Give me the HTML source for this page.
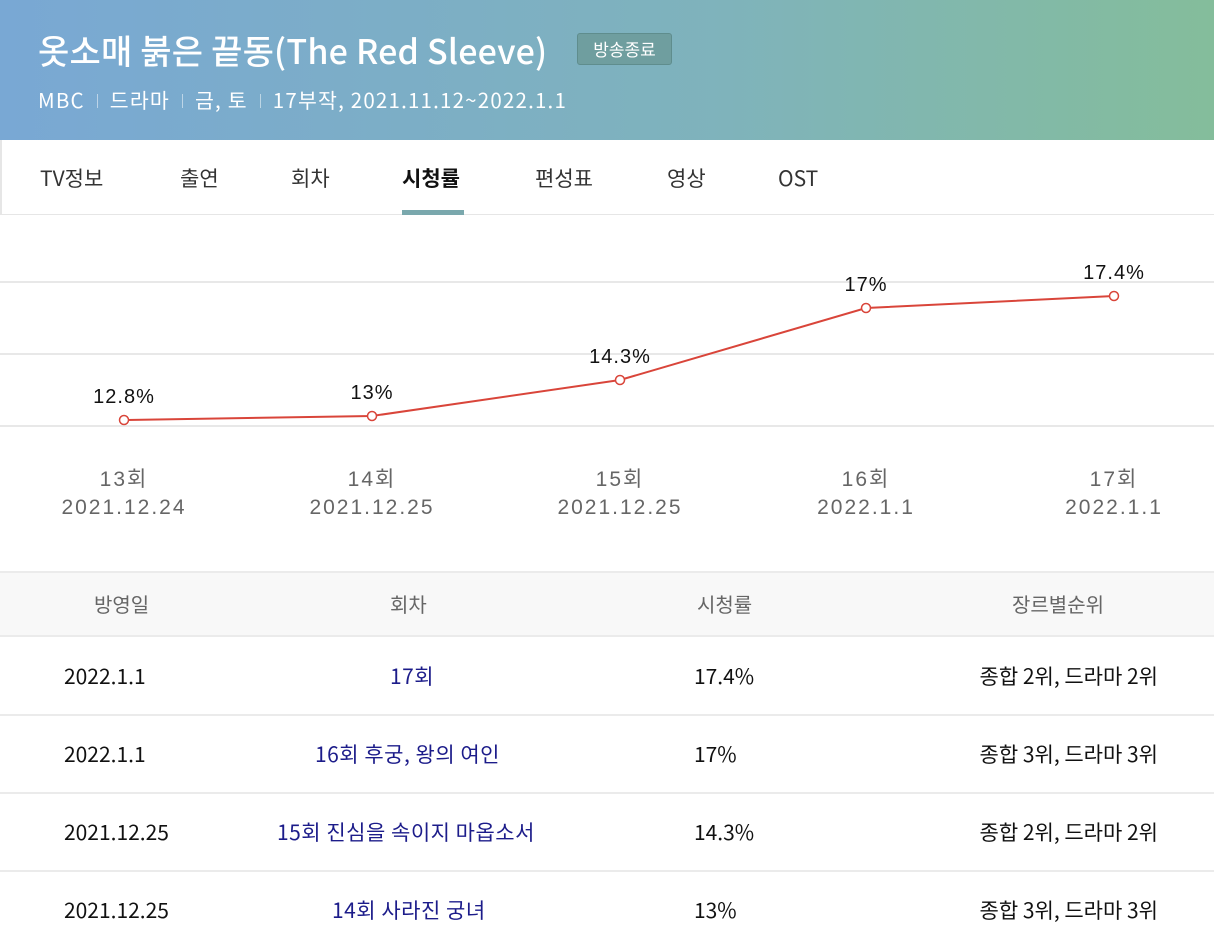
<!DOCTYPE html>
<html><head><meta charset="utf-8"><style>
*{margin:0;padding:0;box-sizing:border-box}
body{width:1214px;height:936px;overflow:hidden;background:#fff;font-family:"Noto Sans CJK KR","Liberation Sans",sans-serif;position:relative}
.hd{position:absolute;left:0;top:0;width:1214px;height:140px;background:linear-gradient(90deg,#79a8d4,#7fb3bb 60%,#84bd9b)}
.t{position:absolute;left:38px;top:28px;color:#fff;font-size:34px;letter-spacing:0.2px;line-height:44px;white-space:nowrap;font-weight:500}
.badge{position:absolute;left:577px;top:33px;width:95px;height:32px;background:#6f9e9f;border:1px solid #5f8d8d;border-radius:3px;color:#fff;font-size:17px;text-align:center;line-height:30px}
.sub{position:absolute;left:38px;top:85px;color:#fff;font-size:20.5px;line-height:28px;letter-spacing:1.2px;white-space:nowrap}
.sub i{display:inline-block;width:1px;height:14px;background:rgba(255,255,255,.5);margin:0 12px}
.tabs{position:absolute;left:0;top:140px;width:1214px;height:75px;border-bottom:1px solid #e6e6e6;border-left:2px solid #e6e6e6}
.tab{position:absolute;top:164px;font-size:21px;line-height:28px;color:#333;white-space:nowrap}
.ul{position:absolute;left:402px;top:210px;width:62px;height:5px;background:#7aa8ad}
svg{position:absolute;left:0;top:0}
.th{position:absolute;left:0;top:571px;width:1214px;height:66px;background:#f8f8f8;border-top:2px solid #ebebeb;border-bottom:2px solid #ebebeb}
.c{position:absolute;font-size:21px;line-height:28px;color:#111;white-space:nowrap}
.h{color:#666;font-size:20px}
.l{color:#1c1c8a;letter-spacing:0.5px}
.row{position:absolute;left:0;width:1214px;height:2px;background:#ebebeb}
</style></head><body>
<div class="hd"></div>
<div class="t">옷소매 붉은 끝동(The Red Sleeve)</div>
<div class="badge">방송종료</div>
<div class="sub">MBC<i></i>드라마<i></i>금, 토<i></i>17부작, 2021.11.12~2022.1.1</div>
<div class="tabs"></div>
<div class="tab" style="left:40px">TV정보</div>
<div class="tab" style="left:180px">출연</div>
<div class="tab" style="left:291px">회차</div>
<div class="tab" style="left:402px;font-weight:bold;color:#111">시청률</div>
<div class="tab" style="left:535px">편성표</div>
<div class="tab" style="left:667px">영상</div>
<div class="tab" style="left:778px">OST</div>
<div class="ul"></div>
<svg width="1214" height="936" font-family="Liberation Sans, Noto Sans CJK KR, sans-serif">
<g stroke="#e8e8e8" stroke-width="2"><line x1="0" y1="282" x2="1214" y2="282"/><line x1="0" y1="354" x2="1214" y2="354"/><line x1="0" y1="426" x2="1214" y2="426"/></g>
<polyline points="124,420 372,416 620,380 866,308 1114,296" fill="none" stroke="#d9453a" stroke-width="2"/>
<g fill="#fff" stroke="#d9453a" stroke-width="1.5"><circle cx="124" cy="420" r="4.5"/><circle cx="372" cy="416" r="4.5"/><circle cx="620" cy="380" r="4.5"/><circle cx="866" cy="308" r="4.5"/><circle cx="1114" cy="296" r="4.5"/></g>
<g font-size="20" fill="#111" text-anchor="middle" letter-spacing="1"><text x="124" y="403">12.8%</text><text x="372" y="399">13%</text><text x="620" y="363">14.3%</text><text x="866" y="291">17%</text><text x="1114" y="279">17.4%</text></g>
<g font-size="21" fill="#666" text-anchor="middle" letter-spacing="2">
<text x="124" y="486">13회</text><text x="124" y="514">2021.12.24</text>
<text x="372" y="486">14회</text><text x="372" y="514">2021.12.25</text>
<text x="620" y="486">15회</text><text x="620" y="514">2021.12.25</text>
<text x="866" y="486">16회</text><text x="866" y="514">2022.1.1</text>
<text x="1114" y="486">17회</text><text x="1114" y="514">2022.1.1</text></g>
</svg>
<div class="th"></div>
<div class="c h" style="left:94px;top:590px">방영일</div>
<div class="c h" style="left:390px;top:590px">회차</div>
<div class="c h" style="left:697px;top:590px">시청률</div>
<div class="c h" style="left:1012px;top:590px">장르별순위</div>
<div class="row" style="top:714px"></div><div class="row" style="top:792px"></div><div class="row" style="top:870px"></div>
<div class="c" style="left:64px;top:662px">2022.1.1</div>
<div class="c l" style="left:390px;top:662px">17회</div>
<div class="c" style="left:694px;top:662px">17.4%</div>
<div class="c" style="right:56px;top:662px">종합 2위, 드라마 2위</div>
<div class="c" style="left:64px;top:740px">2022.1.1</div>
<div class="c l" style="left:315px;top:740px">16회 후궁, 왕의 여인</div>
<div class="c" style="left:694px;top:740px">17%</div>
<div class="c" style="right:56px;top:740px">종합 3위, 드라마 3위</div>
<div class="c" style="left:64px;top:818px">2021.12.25</div>
<div class="c l" style="left:277px;top:818px">15회 진심을 속이지 마옵소서</div>
<div class="c" style="left:694px;top:818px">14.3%</div>
<div class="c" style="right:56px;top:818px">종합 2위, 드라마 2위</div>
<div class="c" style="left:64px;top:896px">2021.12.25</div>
<div class="c l" style="left:332px;top:896px">14회 사라진 궁녀</div>
<div class="c" style="left:694px;top:896px">13%</div>
<div class="c" style="right:56px;top:896px">종합 3위, 드라마 3위</div>
</body></html>
